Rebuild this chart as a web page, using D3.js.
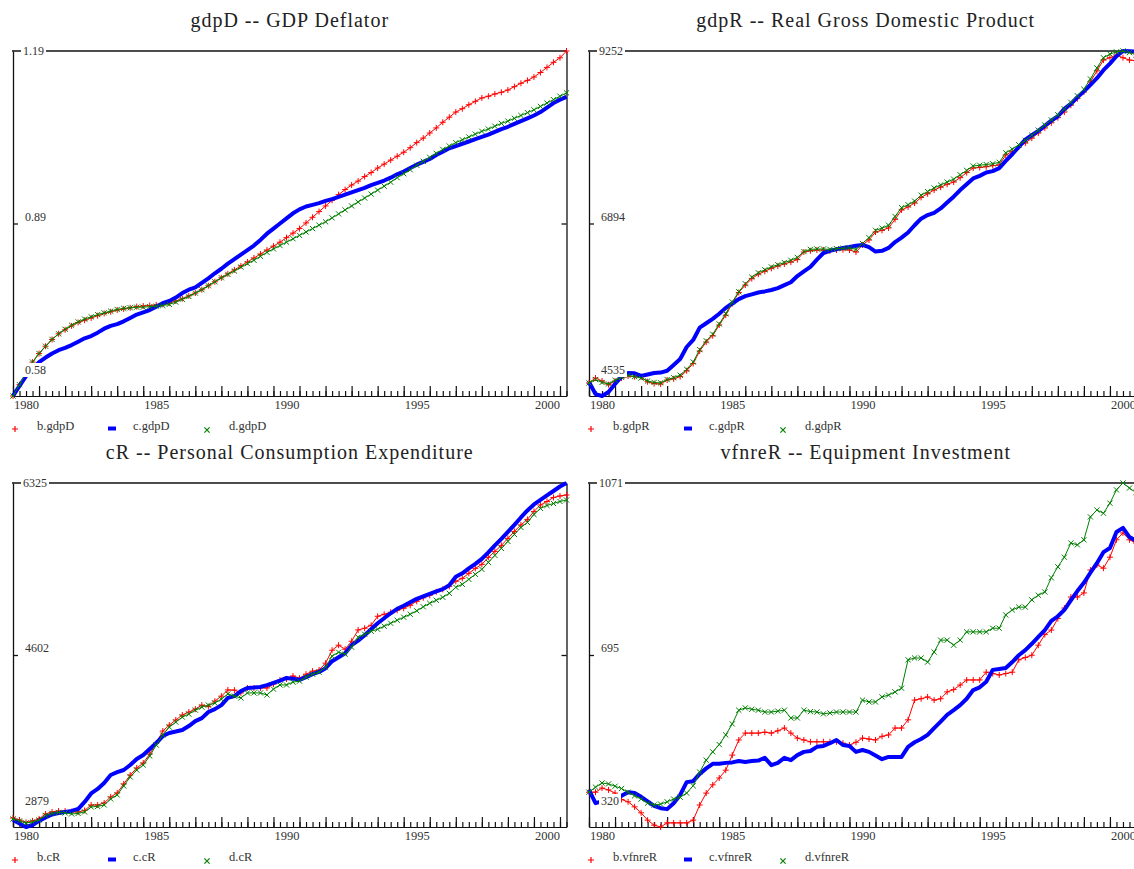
<!DOCTYPE html>
<html><head><meta charset="utf-8">
<script src="https://cdn.jsdelivr.net/npm/d3@7"></script>
<style>body{margin:0;background:#fff}svg{display:block}</style>
</head><body><svg id="c" width="1134" height="869"></svg>
<script>
// quarterly observations 1980Q1 .. 2001Q2
const firstYear = 1980;
const nObs = 86;
const xLabelYears = [1980, 1985, 1990, 1995, 2000];

const gdpD_b = [0.580,0.600,0.620,0.640, 0.655,0.668,0.680,0.690, 0.697,0.704,0.710,0.714, 0.718,0.722,0.726,0.729,
 0.732,0.734,0.736,0.738, 0.739,0.740,0.741,0.742, 0.744,0.748,0.752,0.757, 0.762,0.768,0.775,0.782,
 0.789,0.796,0.803,0.810, 0.817,0.824,0.831,0.838, 0.845,0.852,0.860,0.868, 0.876,0.886,0.896,0.906,
 0.916,0.926,0.936,0.945, 0.953,0.960,0.968,0.975, 0.983,0.990,0.997,1.004, 1.011,1.019,1.028,1.036,
 1.045,1.054,1.064,1.073, 1.082,1.088,1.095,1.101, 1.107,1.110,1.114,1.117, 1.121,1.127,1.133,1.138,
 1.144,1.152,1.161,1.170, 1.178,1.190];
const gdpD_c = [0.580,0.598,0.615,0.628, 0.640,0.648,0.655,0.661, 0.665,0.670,0.676,0.682, 0.686,0.692,0.699,0.704,
 0.707,0.712,0.718,0.724, 0.728,0.732,0.738,0.744, 0.748,0.754,0.762,0.768, 0.772,0.780,0.788,0.797,
 0.805,0.814,0.822,0.830, 0.838,0.846,0.856,0.867, 0.876,0.885,0.894,0.903, 0.910,0.915,0.918,0.921,
 0.925,0.928,0.932,0.936, 0.940,0.944,0.948,0.953, 0.957,0.961,0.966,0.972, 0.977,0.983,0.989,0.994,
 0.999,1.006,1.012,1.018, 1.022,1.026,1.030,1.034, 1.038,1.042,1.047,1.052, 1.056,1.061,1.066,1.071,
 1.076,1.082,1.090,1.098, 1.104,1.109];
const gdpD_d = [0.580,0.600,0.620,0.640, 0.655,0.668,0.680,0.690, 0.698,0.705,0.711,0.716, 0.720,0.724,0.727,0.730,
 0.733,0.735,0.736,0.737, 0.737,0.738,0.739,0.740, 0.742,0.746,0.751,0.756, 0.762,0.768,0.775,0.782,
 0.789,0.795,0.801,0.808, 0.814,0.820,0.827,0.834, 0.840,0.846,0.852,0.858, 0.864,0.870,0.876,0.882,
 0.888,0.895,0.902,0.909, 0.916,0.923,0.930,0.937, 0.944,0.951,0.958,0.966, 0.973,0.980,0.988,0.995,
 1.002,1.009,1.016,1.022, 1.028,1.033,1.038,1.043, 1.048,1.052,1.057,1.062, 1.066,1.071,1.076,1.081,
 1.086,1.092,1.098,1.104, 1.110,1.116];

const gdpR_b = [4713,4781,4740,4690, 4740,4780,4808,4800, 4795,4730,4705,4699, 4754,4770,4800,4880,
 4980,5150,5273,5360, 5506,5640,5800,5950, 6052,6140,6200,6240, 6280,6312,6340,6367,
 6400,6503,6520,6531, 6531,6520,6531,6535, 6531,6503,6600,6668, 6777,6800,6832,6950,
 7078,7120,7173,7250, 7300,7351,7390,7430, 7460,7520,7590,7652, 7660,7670,7685,7693,
 7829,7880,7940,7993, 8060,8130,8199,8270, 8340,8417,8510,8600, 8691,8830,8980,9128,
 9160,9197,9160,9128, 9120,9110];
const gdpR_c = [4726,4560,4535,4590, 4700,4800,4849,4845, 4810,4830,4849,4855, 4880,4960,5040,5205,
 5301,5470,5530,5590, 5660,5740,5800,5860, 5900,5925,5950,5965, 5984,6010,6050,6090,
 6175,6240,6300,6400, 6490,6520,6540,6560, 6572,6590,6600,6570, 6510,6520,6560,6640,
 6700,6770,6870,6960, 7009,7040,7100,7180, 7260,7350,7430,7510, 7545,7590,7610,7650,
 7750,7840,7940,8040, 8100,8160,8230,8300, 8360,8460,8530,8620, 8700,8790,8880,8990,
 9080,9180,9252,9250, 9245,9240];
const gdpR_d = [4713,4760,4720,4700, 4750,4790,4815,4800, 4780,4740,4720,4715, 4760,4785,4820,4900,
 5000,5170,5290,5380, 5520,5660,5820,5960, 6070,6160,6220,6260, 6300,6330,6360,6390,
 6430,6510,6540,6545, 6545,6540,6550,6555, 6560,6540,6620,6700, 6800,6830,6870,6990,
 7110,7150,7200,7280, 7330,7380,7420,7460, 7500,7560,7620,7680, 7690,7700,7710,7730,
 7860,7910,7970,8030, 8100,8170,8240,8310, 8380,8460,8550,8640, 8730,8870,9020,9160,
 9210,9240,9252,9230, 9200,9195];

const cR_b = [2969,2949,2925,2940, 2960,3010,3030,3039, 3039,3032,3029,3045, 3099,3099,3120,3180,
 3220,3310,3400,3470, 3520,3610,3720,3840, 3900,3951,4001,4030, 4060,4100,4085,4140,
 4190,4252,4250,4222, 4272,4272,4272,4272, 4310,4350,4362,4392, 4370,4410,4440,4452,
 4520,4650,4700,4660, 4740,4853,4870,4900, 4990,5010,5030,5050, 5070,5100,5140,5175,
 5200,5235,5260,5290, 5340,5370,5420,5470, 5510,5580,5640,5700, 5770,5840,5905,5960,
 6040,6105,6140,6180, 6195,6205];
const cR_c = [2949,2915,2879,2899, 2940,2975,3005,3018, 3029,3040,3059,3130, 3215,3260,3320,3400,
 3428,3450,3500,3560, 3600,3660,3720,3790, 3821,3835,3851,3890, 3940,3970,4031,4060,
 4100,4172,4190,4240, 4272,4276,4282,4300, 4322,4345,4372,4365, 4352,4380,4410,4432,
 4470,4540,4580,4620, 4700,4745,4800,4860, 4920,4970,5020,5065, 5095,5130,5165,5190,
 5215,5240,5262,5300, 5385,5420,5470,5515, 5565,5630,5700,5765, 5835,5905,5980,6050,
 6110,6155,6200,6245, 6290,6325];
const cR_d = [2959,2940,2919,2929, 2950,2995,3015,3025, 3020,3010,3015,3030, 3080,3085,3100,3160,
 3200,3290,3380,3450, 3500,3590,3700,3800, 3880,3930,3980,4010, 4050,4080,4100,4121,
 4160,4212,4190,4172, 4222,4222,4222,4202, 4260,4302,4302,4330, 4340,4380,4410,4430,
 4480,4590,4630,4610, 4680,4780,4810,4840, 4860,4890,4920,4950, 4980,5010,5045,5085,
 5120,5150,5180,5220, 5280,5310,5360,5410, 5460,5530,5600,5670, 5740,5810,5880,5930,
 6010,6070,6100,6120, 6140,6155];

const vfnreR_b = [396,396,405,401, 394,380,375,364, 351,335,324,320, 329,329,329,329,
 335,368,394,412, 427,444,477,510, 525,525,525,527, 525,530,536,525,
 514,510,506,506, 506,506,506,503, 499,505,514,512, 510,518,521,536,
 536,554,597,600, 604,597,600,615, 620,630,641,641, 641,658,655,652,
 655,658,685,690, 695,717,740,750, 775,798,822,822, 831,881,892,885,
 909,947,962,947, 940,935];
const vfnreR_c = [401,372,376,384, 386,388,396,394, 386,376,366,361, 359,372,390,418,
 420,436,448,458, 458,460,461,464, 462,464,465,471, 455,460,471,466,
 477,484,486,495, 497,503,510,499, 497,484,488,484, 476,468,473,473,
 473,495,505,512, 521,536,550,565, 575,586,600,619, 625,637,663,665,
 667,680,695,706, 720,735,750,770, 780,794,815,835, 853,875,896,920,
 929,964,973,953, 945,940];
const vfnreR_d = [396,407,416,414, 409,404,396,388, 381,372,368,370, 375,381,385,394,
 410,440,466,484, 500,521,545,575, 580,577,575,571, 571,573,575,558,
 558,575,572,571, 567,569,571,571, 571,571,597,593, 593,604,608,615,
 623,685,689,689, 680,702,728,728, 717,728,746,746, 746,746,754,754,
 783,794,800,800, 816,826,833,864, 888,909,940,936, 947,997,1012,1005,
 1027,1056,1071,1060, 1050,1045];

const yTicks_gdpD = ["0.58","0.89","1.19"];
const yTicks_gdpR = ["4535","6894","9252"];
const yTicks_cR = ["2879","4602","6325"];
const yTicks_vfnreR = ["320","695","1071"];

const dates = d3.range(nObs).map(i => firstYear + i / 4);

const panels = [
  {title:"gdpD -- GDP Deflator", code:"gdpD", ticks:yTicks_gdpD, dom:[0.58,1.19], b:gdpD_b, c:gdpD_c, d:gdpD_d, left:13, top:51, h:345},
  {title:"gdpR -- Real Gross Domestic Product", code:"gdpR", ticks:yTicks_gdpR, dom:[4535,9252], b:gdpR_b, c:gdpR_c, d:gdpR_d, left:589, top:51, h:345},
  {title:"cR -- Personal Consumption Expenditure", code:"cR", ticks:yTicks_cR, dom:[2879,6325], b:cR_b, c:cR_c, d:cR_d, left:13, top:483, h:344},
  {title:"vfnreR -- Equipment Investment", code:"vfnreR", ticks:yTicks_vfnreR, dom:[320,1071], b:vfnreR_b, c:vfnreR_c, d:vfnreR_d, left:589, top:483, h:344}
];

const W = 553.5;
const serif = "'Liberation Serif','Times New Roman',serif";
const RED = "#ff0000", BLUE = "#0000ff", GREEN = "#008000", INK = "#111";
const plusPath = "M-3,0H3M0,-3V3";
const xPath = "M-2.6,-2.6L2.6,2.6M-2.6,2.6L2.6,-2.6";

const svg = d3.select("#c");

panels.forEach(p => {
  const bottom = p.top + p.h, right = p.left + W;
  const x = d3.scaleLinear().domain([firstYear, firstYear + (nObs - 1) / 4]).range([p.left, right]);
  const y = d3.scaleLinear().domain(p.dom).range([bottom, p.top]);
  const g = svg.append("g");

  // title
  g.append("text").attr("x", p.left + W / 2).attr("y", p.top - 24)
    .attr("text-anchor", "middle").attr("font-family", serif).attr("font-size", 20)
    .attr("letter-spacing", "1px").attr("fill", "#222").text(p.title);

  // x axes
  const yearTicks = d3.range(firstYear, firstYear + 22);
  const gx1 = g.append("g").attr("transform", `translate(0,${bottom})`)
    .call(d3.axisBottom(x).tickValues(dates).tickSizeInner(-5).tickSizeOuter(0).tickFormat(""));
  const gx2 = g.append("g").attr("transform", `translate(0,${bottom})`)
    .call(d3.axisBottom(x).tickValues(yearTicks.filter(v => v <= x.domain()[1])).tickSizeInner(-10).tickSizeOuter(0).tickFormat(""));
  gx2.select(".domain").remove();
  const gx3 = g.append("g").attr("transform", `translate(0,${bottom})`)
    .call(d3.axisBottom(x).tickValues(xLabelYears.map(v => v + 0.5)).tickSize(0).tickPadding(4).tickFormat(v => String(Math.floor(v))));
  gx3.select(".domain").remove();
  [gx1, gx2, gx3].forEach(a => a.attr("color", INK).selectAll("line,path").attr("stroke-width", 1.2));
  gx3.attr("font-family", serif).attr("font-size", 12.5).selectAll("text").attr("fill", "#333");

  // left / right frame with mid ticks
  const mid = (p.dom[0] + p.dom[1]) / 2;
  const gl = g.append("g").attr("transform", `translate(${p.left},0)`)
    .call(d3.axisRight(y).tickValues([mid]).tickSizeInner(5).tickSizeOuter(0).tickFormat(""));
  const gr = g.append("g").attr("transform", `translate(${right},0)`)
    .call(d3.axisLeft(y).tickValues([mid]).tickSizeInner(5).tickSizeOuter(0).tickFormat(""));
  [gl, gr].forEach(a => a.attr("color", INK).selectAll("line,path").attr("stroke-width", 1.3));
  g.append("line").attr("x1", p.left - 1).attr("x2", right).attr("y1", p.top).attr("y2", p.top)
    .attr("stroke", INK).attr("stroke-width", 1.4);

  // series
  const line = d3.line().x((d, i) => x(dates[i])).y(d => y(d));
  const series = [
    {vals:p.b, color:RED, w:1, mark:plusPath},
    {vals:p.c, color:BLUE, w:4, mark:null},
    {vals:p.d, color:GREEN, w:1, mark:xPath}
  ];
  series.forEach(s => {
    g.append("path").datum(s.vals).attr("d", line).attr("fill", "none")
      .attr("stroke", s.color).attr("stroke-width", s.w).attr("stroke-linejoin", "round");
    if (s.mark) {
      g.append("g").selectAll("path").data(s.vals).join("path")
        .attr("transform", (d, i) => `translate(${x(dates[i])},${y(d)})`)
        .attr("d", s.mark).attr("stroke", s.color).attr("stroke-width", 1).attr("fill", "none");
    }
  });

  // y labels with white background
  const labs = [
    {t:p.ticks[2], x:p.left + 10, y:p.top + 4},
    {t:p.ticks[1], x:p.left + 12, y:y(mid) - 3},
    {t:p.ticks[0], x:p.left + 12, y:bottom - 22}
  ];
  labs.forEach(l => {
    const lg = g.append("g");
    const txt = lg.append("text").attr("x", l.x).attr("y", l.y).attr("font-family", serif)
      .attr("font-size", 12).attr("fill", "#333").text(l.t);
    const bb = txt.node().getBBox();
    lg.insert("rect", "text").attr("x", bb.x - 2).attr("y", bb.y).attr("width", bb.width + 4)
      .attr("height", bb.height).attr("fill", "#fff");
  });

  // legend
  const ly = bottom + 34;
  const leg = g.append("g").attr("font-family", serif).attr("font-size", 12.5).attr("fill", "#333");
  leg.append("path").attr("transform", `translate(${p.left + 2},${ly - 1})`).attr("d", plusPath)
    .attr("stroke", RED).attr("stroke-width", 1.2).attr("fill", "none");
  leg.append("text").attr("x", p.left + 24).attr("y", ly).text("b." + p.code);
  leg.append("rect").attr("x", p.left + 95).attr("y", ly - 3.5).attr("width", 8).attr("height", 4).attr("fill", BLUE);
  leg.append("text").attr("x", p.left + 120).attr("y", ly).text("c." + p.code);
  leg.append("path").attr("transform", `translate(${p.left + 194},${ly})`).attr("d", xPath)
    .attr("stroke", GREEN).attr("stroke-width", 1.2).attr("fill", "none");
  leg.append("text").attr("x", p.left + 216).attr("y", ly).text("d." + p.code);
});
</script></body></html>
